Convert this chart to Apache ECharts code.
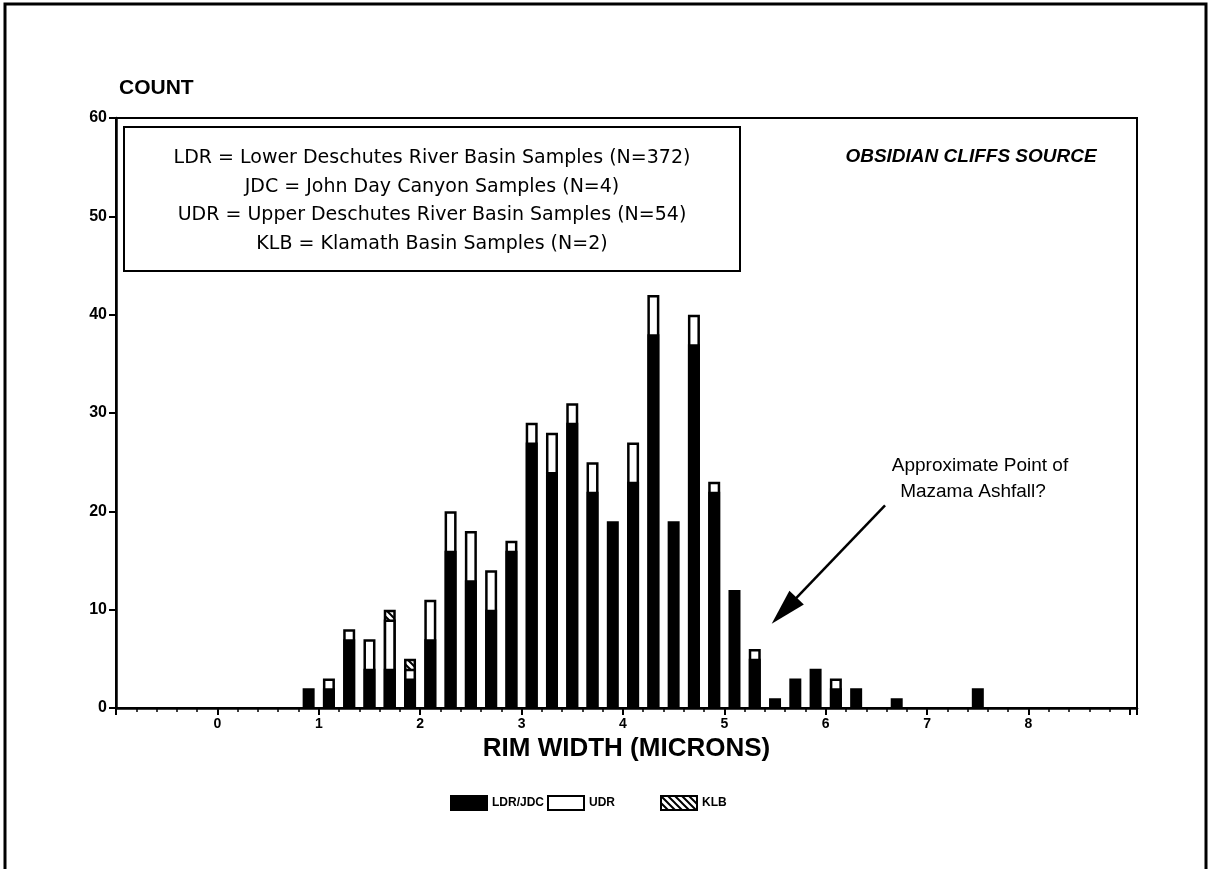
<!DOCTYPE html>
<html>
<head>
<meta charset="utf-8">
<script src="https://cdn.jsdelivr.net/npm/echarts@6/dist/echarts.min.js"></script>
<style>
  html, body { margin: 0; padding: 0; background: #fff; }
  #chart { width: 1211px; height: 869px; }
</style>
</head>
<body>
<div id="chart"></div>
<script>
// Bin centres (rim width, microns)
const bins = [0.9, 1.1, 1.3, 1.5, 1.7, 1.9, 2.1, 2.3, 2.5, 2.7, 2.9, 3.1, 3.3, 3.5, 3.7, 3.9, 4.1, 4.3, 4.5, 4.7, 4.9, 5.1, 5.3, 5.5, 5.7, 5.9, 6.1, 6.3, 6.5, 6.7, 6.9, 7.1, 7.3, 7.5];
// Counts per bin
const ldrJdc = [2, 2, 7, 4, 4, 3, 7, 16, 13, 10, 16, 27, 24, 29, 22, 19, 23, 38, 19, 37, 22, 12, 5, 1, 3, 4, 2, 2, 0, 1, 0, 0, 0, 2];
const udr    = [0, 1, 1, 3, 5, 1, 4, 4, 5, 4, 1, 2, 4, 2, 3, 0, 4, 4, 0, 3, 1, 0, 1, 0, 0, 0, 1, 0, 0, 0, 0, 0, 0, 0];
const klb    = [0, 0, 0, 0, 1, 1, 0, 0, 0, 0, 0, 0, 0, 0, 0, 0, 0, 0, 0, 0, 0, 0, 0, 0, 0, 0, 0, 0, 0, 0, 0, 0, 0, 0];
const seriesNames = ['LDR/JDC', 'UDR', 'KLB'];
const xTickLabels = [0, 1, 2, 3, 4, 5, 6, 7, 8];
const keyLines = [
  'LDR = Lower Deschutes River Basin Samples (N=372)',
  'JDC = John Day Canyon Samples (N=4)',
  'UDR = Upper Deschutes River Basin Samples (N=54)',
  'KLB = Klamath Basin Samples (N=2)'
];
const arrowFrom = [6.585, 20.6];
const arrowTo = [5.59, 9.9];

const FONT = "'Liberation Sans', Arial, Helvetica, sans-serif";
const WIDE = "'DejaVu Sans', 'Liberation Sans', Arial, sans-serif";

function hatchPattern() {
  const c = document.createElement('canvas');
  c.width = 7; c.height = 7;
  const g = c.getContext('2d');
  g.fillStyle = '#fff'; g.fillRect(0, 0, 7, 7);
  g.strokeStyle = '#000'; g.lineWidth = 2;
  g.beginPath();
  g.moveTo(-1, -1); g.lineTo(8, 8);
  g.moveTo(-1, 6); g.lineTo(1, 8);
  g.moveTo(6, -1); g.lineTo(8, 1);
  g.stroke();
  return c;
}

// Stacked segments: each segment is drawn from 0 up to its cumulative top,
// upper segments first so lower ones overlay them (equivalent to a stack).
const top1 = ldrJdc.map(v => v);
const top2 = ldrJdc.map((v, i) => v + udr[i]);
const top3 = ldrJdc.map((v, i) => v + udr[i] + klb[i]);
function seg(tops, own) {
  return bins.map((b, i) => [b, own[i] === 0 ? '-' : tops[i]]);
}

const chart = echarts.init(document.getElementById('chart'), null, { renderer: 'canvas' });

const centered = { align: 'center', verticalAlign: 'middle', textAlign: 'center', textVerticalAlign: 'middle', fill: '#000' };
const keyText = keyLines.map((t, i) => ({
  type: 'text',
  x: 432, y: 158 + i * 28.7,
  z: 20,
  style: Object.assign({ text: t, font: '19px ' + WIDE }, centered)
}));

const legendText = { fontFamily: FONT, fontWeight: 'bold', fontSize: 12, color: '#000' };

const option = {
  animation: false,
  backgroundColor: '#fff',
  title: {
    text: 'COUNT', left: 114, top: 73,
    textStyle: { fontFamily: FONT, fontWeight: 'bold', fontSize: 21, color: '#000' }
  },
  grid: { left: 116, top: 118, width: 1021, height: 590, show: true, borderColor: '#000', borderWidth: 2, backgroundColor: 'transparent' },
  xAxis: {
    type: 'value', min: -1, max: 9.07, interval: 1,
    name: 'RIM WIDTH (MICRONS)', nameLocation: 'middle', nameGap: 28,
    nameTextStyle: { fontFamily: FONT, fontWeight: 'bold', fontSize: 26, color: '#000' },
    axisLine: { onZero: false, lineStyle: { color: '#000', width: 2.5 } },
    axisTick: { show: true, inside: false, length: 7, lineStyle: { color: '#000', width: 2 } },
    minorTick: { show: true, splitNumber: 5, length: 4, lineStyle: { color: '#000', width: 1.5 } },
    splitLine: { show: false },
    axisLabel: {
      margin: 9, color: '#000', fontFamily: FONT, fontWeight: 'bold', fontSize: 14,
      formatter: v => {
        const r = Math.round(v);
        return (Math.abs(v - r) < 1e-6 && xTickLabels.indexOf(r) >= 0) ? String(r) : '';
      }
    }
  },
  yAxis: {
    type: 'value', min: 0, max: 60, interval: 10,
    axisLine: { show: true, onZero: false, lineStyle: { color: '#000', width: 2.5 } },
    axisTick: { show: true, inside: false, length: 7, lineStyle: { color: '#000', width: 2 } },
    splitLine: { show: false },
    axisLabel: { margin: 9, color: '#000', fontFamily: FONT, fontWeight: 'bold', fontSize: 16 }
  },
  legend: [
    {
      left: 445, top: 790, itemGap: 3, itemWidth: 36, itemHeight: 14,
      data: [seriesNames[0], seriesNames[1]], icon: 'rect', textStyle: legendText
    },
    {
      left: 655, top: 790, itemGap: 3, itemWidth: 36, itemHeight: 14,
      data: [seriesNames[2]], icon: 'rect', textStyle: legendText
    }
  ],
  series: [
    {
      name: seriesNames[2], type: 'bar', barWidth: 12, barGap: '-100%', z: 2,
      data: seg(top3, klb),
      itemStyle: { color: { image: hatchPattern(), repeat: 'repeat' }, borderColor: '#000', borderWidth: 2.5 }
    },
    {
      name: seriesNames[1], type: 'bar', barWidth: 12, barGap: '-100%', z: 3,
      data: seg(top2, udr),
      itemStyle: { color: '#fff', borderColor: '#000', borderWidth: 2.5 }
    },
    {
      name: seriesNames[0], type: 'bar', barWidth: 12, barGap: '-100%', z: 4,
      data: seg(top1, ldrJdc),
      itemStyle: { color: '#000', borderColor: '#000', borderWidth: 2.5 },
      markLine: {
        silent: true, symbol: ['none', 'triangle'], symbolSize: [20, 36],
        lineStyle: { color: '#000', width: 2.5, type: 'solid' },
        itemStyle: { color: '#000' },
        label: { show: false },
        data: [[{ coord: arrowFrom }, { coord: arrowTo }]]
      }
    }
  ],
  graphic: [
    { type: 'rect', z: 0, silent: true, shape: { x: 5, y: 4, width: 1201, height: 1000 }, style: { fill: 'none', stroke: '#000', lineWidth: 3 } },
    { type: 'rect', z: 19, shape: { x: 124, y: 127, width: 616, height: 144 }, style: { fill: '#fff', stroke: '#000', lineWidth: 2 } },
    ...keyText,
    { type: 'text', x: 971, y: 157, z: 20, style: Object.assign({ text: 'OBSIDIAN CLIFFS SOURCE', font: 'italic bold 19px ' + FONT }, centered) },
    { type: 'text', x: 980, y: 466, z: 20, style: Object.assign({ text: 'Approximate Point of', font: '19px ' + FONT }, centered) },
    { type: 'text', x: 973, y: 492, z: 20, style: Object.assign({ text: 'Mazama Ashfall?', font: '19px ' + FONT }, centered) }
  ]
};

chart.setOption(option);
</script>
</body>
</html>
